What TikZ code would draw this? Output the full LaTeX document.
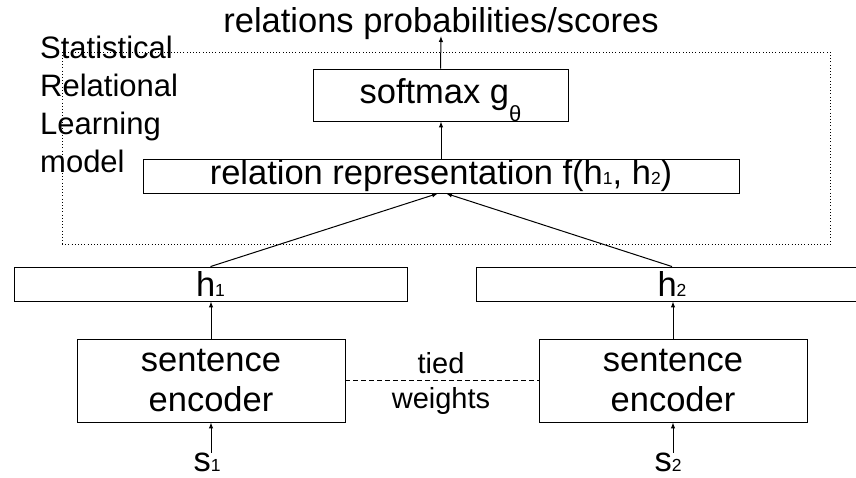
\documentclass[tikz,border=0pt]{standalone}
\usepackage{fontspec}
\setmainfont{Liberation Sans}
\usetikzlibrary{arrows.meta}
\newcommand{\dsub}[1]{{\fontsize{17.5}{17.5}\selectfont #1}}
\begin{document}
\begin{tikzpicture}[x=1pt,y=-1pt,
  box/.style={draw, line width=0.9pt, inner sep=0pt, font=\fontsize{34.5}{40}\selectfont, align=center},
  lbl/.style={inner sep=0pt, font=\fontsize{34.5}{40}\selectfont},
  arr/.style={-{Latex[length=6pt,width=4.5pt]}, line width=1pt},
  frame/.style={draw, line width=0.8pt, dash pattern=on 0.8pt off 2.4pt, inner sep=0pt},
  tie/.style={line width=0.8pt, dash pattern=on 5pt off 3pt},
]
\useasboundingbox (0,0) rectangle (856,478);
\clip (0,0) rectangle (856,478);
% dotted frame of the SRL model
\node[frame, minimum width=768pt, minimum height=192.5pt] (srl) at (446,148.25) {};
% labels
\node[lbl, anchor=base] (title) at (441,33) {relations probabilities/scores};
\node[lbl, font=\fontsize{31}{38.3}\selectfont, align=left, anchor=base west] (srllbl) at (40,173) {Statistical\\Relational\\Learning\\model};
% boxes
\node[box, minimum width=255pt, minimum height=52pt] (soft) at (440.5,95) {softmax g\raisebox{-18pt}[0pt][0pt]{\fontsize{22}{22}\selectfont θ}};
\node[box, minimum width=596pt, minimum height=34pt] (rep) at (441,176) {relation representation f(h\dsub{1}, h\dsub{2})};
\node[box, minimum width=393pt, minimum height=34pt] (h1) at (210.5,284) {h\dsub{1}};
\node[box, minimum width=392pt, minimum height=34pt] (h2) at (672,284) {h\dsub{2}};
\node[box, minimum width=268pt, minimum height=83pt] (enc1) at (211,380.5) {sentence\\encoder};
\node[box, minimum width=268pt, minimum height=83pt] (enc2) at (673,380.5) {sentence\\encoder};
\node[lbl, font=\fontsize{29}{35}\selectfont, align=center, anchor=base] (tied) at (441,408) {tied\\weights};
\node[lbl, anchor=base] (s1) at (207,471.5) {s\dsub{1}};
\node[lbl, anchor=base] (s2) at (668,471.5) {s\dsub{2}};
% connectors
\draw[arr] (s1.north -| enc1.south) -- (enc1.south);
\draw[arr] (s2.north -| enc2.south) -- (enc2.south);
\draw[arr] (enc1.north) -- (enc1.north |- h1.south);
\draw[arr] (enc2.north) -- (enc2.north |- h2.south);
\draw[tie] (enc1.east) -- (enc2.west);
\draw[arr] (h1.north) -- ([xshift=-3pt]rep.south);
\draw[arr] (h2.north) -- ([xshift=5pt]rep.south);
\draw[arr] (rep.north) -- (rep.north |- soft.south);
\draw[arr] (soft.north) -- ([yshift=-3pt]title.base);
\end{tikzpicture}
\end{document}
